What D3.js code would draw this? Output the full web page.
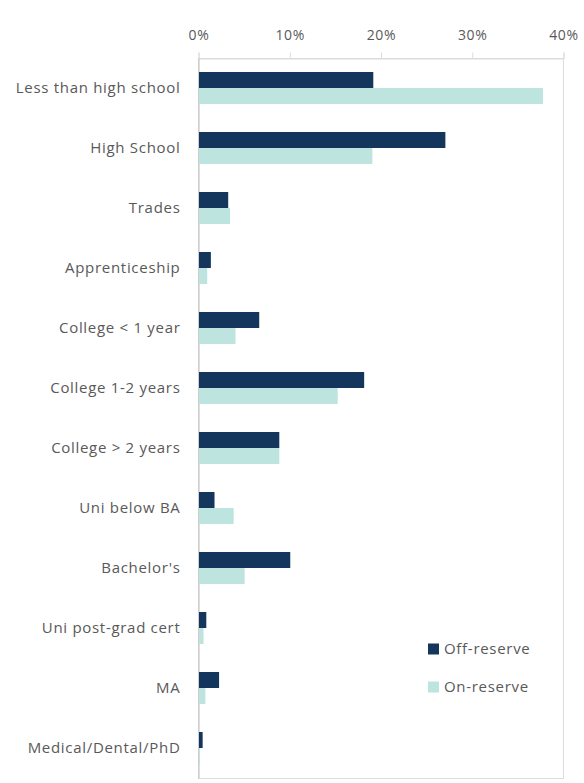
<!DOCTYPE html>
<html>
<head>
<meta charset="utf-8">
<script src="https://cdn.jsdelivr.net/npm/d3@7"></script>
<style>
  body { margin: 0; background: #fff; }
  text { font-family: "Open Sans", sans-serif; fill: #595959; letter-spacing: 0.7px; }
</style>
</head>
<body>
<div id="chart"></div>
<script>
// Data (percent)
var categories = ["Less than high school", "High School", "Trades", "Apprenticeship",
  "College < 1 year", "College 1-2 years", "College > 2 years", "Uni below BA",
  "Bachelor's", "Uni post-grad cert", "MA", "Medical/Dental/PhD"];
var offReserve = [19.1, 27.0, 3.2, 1.3, 6.6, 18.1, 8.8, 1.7, 10.0, 0.8, 2.2, 0.4];
var onReserve = [37.7, 19.0, 3.4, 0.9, 4.0, 15.2, 8.8, 3.8, 5.0, 0.5, 0.7, 0.1];
var seriesNames = ["Off-reserve", "On-reserve"];
var seriesColors = ["#14365d", "#bde4df"];
var xTicks = [0, 10, 20, 30, 40];

var svgWidth = 584;
var svgHeight = 783;

var margin = { top: 58, right: 21, bottom: 5, left: 198 };
var chartWidth = svgWidth - margin.left - margin.right;
var chartHeight = svgHeight - margin.top - margin.bottom;

var svg = d3.select("#chart")
  .append("svg")
  .attr("width", svgWidth)
  .attr("height", svgHeight);

var chartGroup = svg.append("g")
  .attr("transform", `translate(${margin.left}, ${margin.top})`);

// Scales
var xScale = d3.scaleLinear()
  .domain([0, 40])
  .range([0, chartWidth]);

var yScale = d3.scaleBand()
  .domain(categories)
  .range([0, chartHeight])
  .paddingInner(0.467)
  .paddingOuter(0.2335);

var subScale = d3.scaleBand()
  .domain(seriesNames)
  .range([0, yScale.bandwidth()]);

// Plot border
chartGroup.append("rect")
  .attr("x", 0.5)
  .attr("y", 0.5)
  .attr("width", chartWidth)
  .attr("height", chartHeight)
  .attr("fill", "none")
  .attr("stroke", "#dcdcdc");

// Top axis
var topAxis = d3.axisTop(xScale)
  .tickValues(xTicks)
  .tickFormat(d => d + "%")
  .tickSize(6)
  .tickPadding(13);

var xAxisG = chartGroup.append("g")
  .attr("transform", "translate(0.5, 0.5)")
  .call(topAxis);
xAxisG.select(".domain").attr("stroke", "#dcdcdc");
xAxisG.selectAll(".tick line").attr("stroke", "#dcdcdc");
xAxisG.selectAll(".tick text")
  .style("font-size", "14px")
  .attr("fill", "#595959");

// Left axis
var leftAxis = d3.axisLeft(yScale).tickSize(0).tickPadding(18);
var yAxisG = chartGroup.append("g")
  .attr("transform", "translate(0.5, 0)")
  .call(leftAxis);
yAxisG.select(".domain").attr("stroke", "#bfbfbf");
yAxisG.selectAll(".tick text")
  .style("font-size", "15px")
  .attr("fill", "#595959");

// Bars
var rows = categories.map((c, i) => ({ cat: c, values: [offReserve[i], onReserve[i]] }));

var groups = chartGroup.selectAll(".cat")
  .data(rows)
  .enter()
  .append("g")
  .attr("class", "cat")
  .attr("transform", d => `translate(1, ${yScale(d.cat)})`);

groups.selectAll("rect")
  .data(d => d.values.map((v, j) => ({ name: seriesNames[j], value: v, color: seriesColors[j] })))
  .enter()
  .append("rect")
  .attr("x", 0)
  .attr("y", d => subScale(d.name))
  .attr("width", d => xScale(d.value))
  .attr("height", subScale.bandwidth())
  .attr("fill", d => d.color);

// Legend
var legend = svg.append("g")
  .attr("transform", "translate(428, 649)");

var legendItems = legend.selectAll("g")
  .data(seriesNames)
  .enter()
  .append("g")
  .attr("transform", (d, i) => `translate(0, ${i * 38})`);

legendItems.append("rect")
  .attr("x", 0)
  .attr("y", -5.5)
  .attr("width", 11)
  .attr("height", 11)
  .attr("fill", (d, i) => seriesColors[i]);

legendItems.append("text")
  .attr("x", 16)
  .attr("y", 0)
  .attr("dy", "0.35em")
  .style("font-size", "15px")
  .text(d => d);
</script>
</body>
</html>
